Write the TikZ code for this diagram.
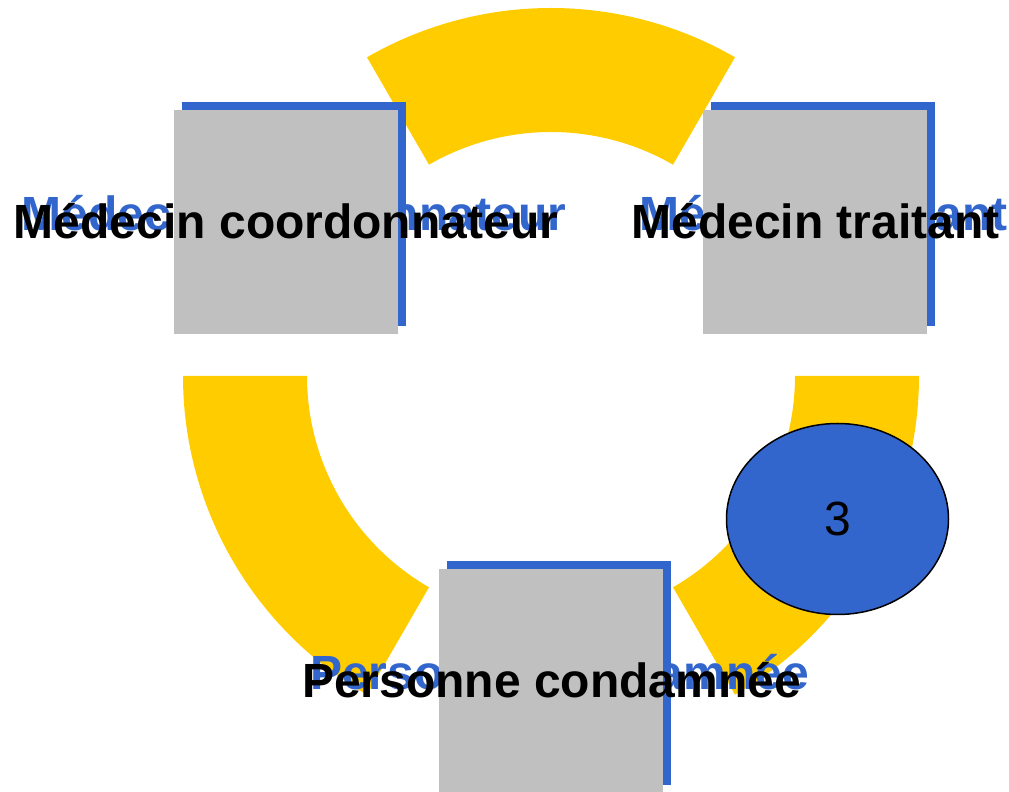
\documentclass[tikz,border=0pt]{standalone}
\usepackage{fontspec}
\setmainfont{Liberation Sans}
\usetikzlibrary{shapes.geometric,calc}
\definecolor{ringyellow}{HTML}{FFCC00}
\definecolor{shadowblue}{HTML}{3366CC}
\definecolor{boxgray}{HTML}{C0C0C0}
\begin{document}
\begin{tikzpicture}[x=1pt,y=1pt,
  ring/.style={fill=ringyellow},
  graybox/.style={rectangle, fill=boxgray, minimum width=224pt, minimum height=224pt, inner sep=0pt},
  shadowbox/.style={rectangle, fill=shadowblue, minimum width=224pt, minimum height=224pt, inner sep=0pt},
  lbl/.style={anchor=base, inner sep=0pt, font=\fontsize{48}{58}\selectfont\bfseries, text=black},
  shadowlbl/.style={lbl, text=shadowblue},
  badge/.style={ellipse, fill=shadowblue, draw=black, line width=1.5pt, minimum width=222pt, minimum height=191pt, inner sep=0pt, font=\fontsize{48}{58}\selectfont, text=black}]
\useasboundingbox (0,0) rectangle (1009,792);
\coordinate (c) at (551,416);
% ring segments
\fill[ring] ($(c)+(60:368)$) arc[start angle=60,end angle=120,radius=368pt] -- ($(c)+(120:244)$) arc[start angle=120,end angle=60,radius=244pt] -- cycle;
\fill[ring] ($(c)+(180:368)$) arc[start angle=180,end angle=240,radius=368pt] -- ($(c)+(240:244)$) arc[start angle=240,end angle=180,radius=244pt] -- cycle;
\fill[ring] ($(c)+(300:368)$) arc[start angle=300,end angle=360,radius=368pt] -- ($(c)+(360:244)$) arc[start angle=360,end angle=300,radius=244pt] -- cycle;
% shadows
\node[shadowbox] (s1) at (294,578) {};
\node[shadowlbl] (st1) at (294,561) {Médecin coordonnateur};
\node[shadowbox] (s2) at (823,578) {};
\node[shadowlbl] (st2) at (823.5,561) {Médecin traitant};
\node[shadowbox] (s3) at (559,119) {};
\node[shadowlbl] (st3) at (559.5,102) {Personne condamnée};
% boxes
\node[graybox] (b1) at (286,570) {};
\node[lbl] (t1) at (286,553) {Médecin coordonnateur};
\node[graybox] (b2) at (815,570) {};
\node[lbl] (t2) at (815.5,553) {Médecin traitant};
\node[graybox] (b3) at (551,111) {};
\node[lbl] (t3) at (551.5,94) {Personne condamnée};
% badge
\node[badge] (n3) at (837.5,273) {3};
\end{tikzpicture}
\end{document}
